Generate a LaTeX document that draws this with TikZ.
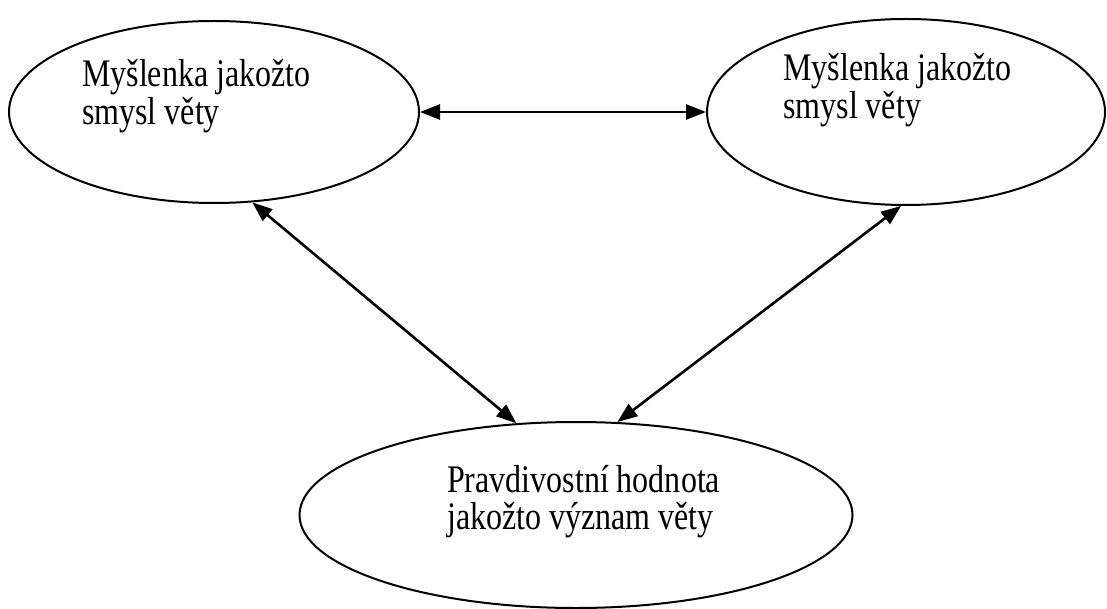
\documentclass[tikz,border=0pt]{standalone}
\usepackage{fontspec}
\setmainfont{Liberation Serif}
\usetikzlibrary{shapes.geometric,arrows.meta}
\newcommand{\twolines}[2]{\scalebox{1}[1.22]{\fontsize{32}{27}\selectfont\begin{tabular}[t]{@{}l@{}}#1\\#2\end{tabular}}}
\begin{document}
\begin{tikzpicture}[x=1pt,y=-1pt,
  oval/.style={draw,ellipse,line width=2pt,inner sep=0pt},
  lbl/.style={anchor=base west,inner sep=0pt},
  link/.style={line width=2.6pt,{Triangle[length=20pt,width=15pt]}-{Triangle[length=20pt,width=15pt]}}]
\useasboundingbox (0,0) rectangle (1107,609);
\node[oval,minimum width=410pt,minimum height=182pt] (L) at (214,112) {};
\node[oval,minimum width=398pt,minimum height=186pt] (R) at (906,112) {};
\node[oval,minimum width=553pt,minimum height=186pt] (B) at (576,515) {};
\node[lbl] (tl) at (82,87) {\twolines{Myšlenka jakožto}{smysl věty}};
\node[lbl] (tr) at (783,81) {\twolines{Myšlenka jakožto}{smysl věty}};
\node[lbl] (tb) at (447,492) {\twolines{Pravdivostní hodnota}{jakožto význam věty}};
\draw[link] (L.east) -- (R.west);
\draw[link] (L.-67.5) -- (B.123.4);
\draw[link] (R.-93.7) -- (B.66);
\end{tikzpicture}
\end{document}
